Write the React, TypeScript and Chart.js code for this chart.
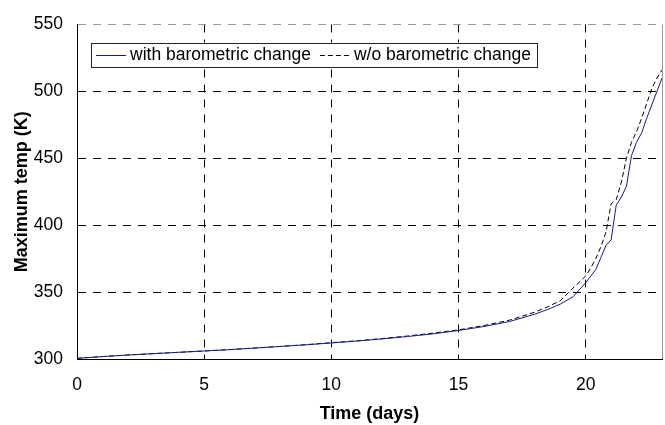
import React, { useEffect, useRef } from "react";
import { Chart, registerables } from "chart.js";

Chart.register(...registerables);

const days = [0, 1, 2, 3, 4, 5, 6, 7, 8, 9, 10, 11, 12, 13, 14, 15, 16, 17, 18, 18.5, 19, 19.5, 20, 20.2, 20.4, 20.6, 20.8, 21, 21.2, 21.4, 21.6, 21.8, 22, 22.2, 22.4, 22.6, 22.8, 23];

const withBaro = [300.5, 301.8, 303, 304, 305, 306, 307, 308.2, 309.4, 310.6, 312, 313.4, 315, 316.8, 318.8, 321.3, 324.3, 328, 333.5, 337, 341, 346.5, 357, 362, 367, 376, 385, 389, 415, 421, 429, 452, 462, 469, 480, 490, 500, 510];

const withoutBaro = [300.5, 301.8, 303, 304, 305, 306, 307, 308.2, 309.4, 310.7, 312.2, 313.6, 315.3, 317.2, 319.3, 321.8, 325, 329, 335, 339, 343.5, 353, 362, 368, 375, 384, 395, 416, 419, 432, 450, 462, 470, 480, 491, 502, 510, 516];

const seriesLabels = ["with barometric change", "w/o barometric change"];
const xTickValues = [0, 5, 10, 15, 20];
const xMin = 0;
const xMax = 23;
const yMin = 300;
const yMax = 550;
const yStep = 50;

const FONT = "'Liberation Sans', Arial, sans-serif";

const frameAndLegend = {
  id: "frameAndLegend",
  afterDraw(chart: any) {
    const { ctx, chartArea } = chart;
    const { left, top, right, bottom } = chartArea;
    ctx.save();
    ctx.strokeStyle = "#999999";
    ctx.lineWidth = 1;
    ctx.setLineDash([]);
    ctx.beginPath();
    ctx.moveTo(Math.round(right) + 0.5, top);
    ctx.lineTo(Math.round(right) + 0.5, bottom);
    ctx.stroke();

    ctx.font = "17.5px " + FONT;
    const bx = left + 14;
    const by = top + 18;
    const lineLen = 30;
    const padL = 5;
    const gapLineText = 4;
    const gapItems = 9;
    const datasets = chart.data.datasets;
    let w = padL;
    datasets.forEach((ds: any, i: number) => {
      w += lineLen + gapLineText + ctx.measureText(ds.label).width;
      if (i < datasets.length - 1) w += gapItems;
    });
    w += 6;
    const h = 24;
    ctx.fillStyle = "#ffffff";
    ctx.fillRect(bx, by, w, h);
    ctx.strokeStyle = "#222222";
    ctx.strokeRect(Math.round(bx) + 0.5, Math.round(by) + 0.5, Math.round(w), h);
    let cx = bx + padL;
    const cy = Math.round(by + h / 2) + 0.5;
    datasets.forEach((ds: any) => {
      ctx.strokeStyle = ds.borderColor;
      ctx.lineWidth = 1;
      ctx.setLineDash(ds.borderDash || []);
      ctx.beginPath();
      ctx.moveTo(cx, cy);
      ctx.lineTo(cx + lineLen, cy);
      ctx.stroke();
      ctx.setLineDash([]);
      cx += lineLen + gapLineText;
      ctx.fillStyle = "#000000";
      ctx.textBaseline = "middle";
      ctx.textAlign = "left";
      ctx.fillText(ds.label, cx, by + h / 2 + 1);
      cx += ctx.measureText(ds.label).width + gapItems;
    });
    ctx.restore();
  },
};

export default function App() {
  const ref = useRef<HTMLCanvasElement | null>(null);

  useEffect(() => {
    if (!ref.current) return;
    const chart = new Chart(ref.current, {
      type: "line",
      data: {
        datasets: [
          {
            label: seriesLabels[0],
            data: days.map((d, i) => ({ x: d, y: withBaro[i] })),
            borderColor: "#1a1a8c",
            borderWidth: 1,
            pointRadius: 0,
            fill: false,
            tension: 0,
          },
          {
            label: seriesLabels[1],
            data: days.map((d, i) => ({ x: d, y: withoutBaro[i] })),
            borderColor: "#000000",
            borderWidth: 1,
            borderDash: [5, 3],
            pointRadius: 0,
            fill: false,
            tension: 0,
          },
        ],
      },
      options: {
        animation: false,
        responsive: false,
        maintainAspectRatio: false,
        layout: { padding: { top: 14, right: 3, left: 0, bottom: 0 } },
        plugins: {
          legend: { display: false },
          tooltip: { enabled: false },
        },
        scales: {
          x: {
            type: "linear",
            min: xMin,
            max: xMax,
            afterBuildTicks: (scale: any) => {
              scale.ticks = xTickValues.map((v) => ({ value: v }));
            },
            afterFit: (scale: any) => {
              scale.height = 66;
            },
            ticks: {
              color: "#000",
              font: { family: FONT, size: 17.5 },
              padding: 16,
              maxRotation: 0,
            },
            grid: {
              drawTicks: false,
              color: (c: any) => (c.tick && c.tick.value === xMin ? "rgba(0,0,0,0)" : "#000"),
              lineWidth: 1,
            },
            border: { display: true, color: "#000", width: 1, dash: [8, 7] },
            title: {
              display: true,
              text: "Time (days)",
              color: "#000",
              font: { family: FONT, size: 18, weight: "bold" },
              padding: { top: 0, bottom: 0 },
            },
          },
          y: {
            type: "linear",
            min: yMin,
            max: yMax,
            afterFit: (scale: any) => {
              scale.width = 77;
            },
            ticks: {
              stepSize: yStep,
              color: "#000",
              font: { family: FONT, size: 17.5 },
              padding: 14,
            },
            grid: {
              drawTicks: false,
              color: (c: any) => {
                if (!c.tick) return "#000";
                if (c.tick.value === yMax) return "#999999";
                if (c.tick.value === yMin) return "rgba(0,0,0,0)";
                return "#000";
              },
              lineWidth: 1,
            },
            border: { display: true, color: "#000", width: 1, dash: [8, 7] },
            title: {
              display: true,
              text: "Maximum temp (K)",
              color: "#000",
              font: { family: FONT, size: 18, weight: "bold" },
              padding: { top: 11, bottom: 0 },
            },
          },
        },
      },
      plugins: [frameAndLegend],
    } as any);
    return () => chart.destroy();
  }, []);

  return (
    <div style={{ position: "fixed", left: 0, top: 0, width: 665, height: 425, background: "#fff" }}>
      <canvas ref={ref} width={665} height={425} style={{ display: "block", width: 665, height: 425 }} />
    </div>
  );
}
